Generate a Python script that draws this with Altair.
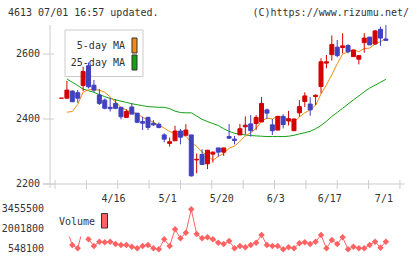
import altair as alt
import pandas as pd

# Trading days shown (2020-04-02 .. 2020-07-01)
dates = [
    "04/02", "04/03", "04/06", "04/07", "04/08", "04/09", "04/10", "04/13", "04/14", "04/15",
    "04/16", "04/17", "04/20", "04/21", "04/22", "04/23", "04/24", "04/27", "04/28", "04/30",
    "05/01", "05/07", "05/08", "05/11", "05/12", "05/13", "05/14", "05/15", "05/18", "05/19",
    "05/20", "05/21", "05/22", "05/25", "05/26", "05/27", "05/28", "05/29",
    "06/01", "06/02", "06/03", "06/04", "06/05", "06/08", "06/09", "06/10", "06/11", "06/12",
    "06/15", "06/16", "06/17", "06/18", "06/19", "06/22", "06/23", "06/24", "06/25", "06/26",
    "06/29", "06/30", "07/01",
]

open_ = [2464, 2464, 2486, 2481, 2503, 2564, 2504, 2474, 2458, 2436,
         2448, 2436, 2405, 2437, 2418, 2392, 2405, 2387, 2384, 2351,
         2325, 2333, 2363, 2350, 2351, 2274, 2291, 2262, 2292, 2311,
         2298, 2346, 2338, 2351, 2376, 2385, 2386, 2391, 2428, 2382,
         2366, 2408, 2394, 2364, 2419, 2454, 2446, 2469, 2500, 2572,
         2598, 2621, 2620, 2626, 2592, 2584, 2635, 2652, 2631, 2676, 2646]
high = [2464, 2517, 2488, 2489, 2561, 2574, 2520, 2492, 2463, 2466,
        2461, 2436, 2430, 2448, 2418, 2407, 2407, 2397, 2389, 2356,
        2343, 2379, 2369, 2384, 2351, 2294, 2307, 2304, 2300, 2311,
        2311, 2385, 2348, 2385, 2408, 2412, 2412, 2468, 2432, 2400,
        2408, 2415, 2425, 2401, 2458, 2482, 2467, 2476, 2587, 2597,
        2657, 2643, 2664, 2630, 2612, 2595, 2664, 2652, 2674, 2684, 2689]
low = [2464, 2464, 2452, 2450, 2486, 2494, 2483, 2443, 2430, 2423,
       2430, 2399, 2405, 2415, 2387, 2366, 2366, 2379, 2371, 2328,
       2315, 2333, 2322, 2350, 2223, 2233, 2260, 2246, 2266, 2284,
       2286, 2339, 2322, 2351, 2352, 2346, 2366, 2391, 2400, 2351,
       2366, 2371, 2380, 2364, 2407, 2437, 2410, 2443, 2479, 2556,
       2580, 2590, 2602, 2602, 2592, 2568, 2604, 2628, 2628, 2625, 2641]
close = [2464, 2489, 2453, 2464, 2546, 2499, 2489, 2448, 2433, 2432,
         2433, 2407, 2423, 2415, 2390, 2387, 2374, 2382, 2374, 2338,
         2330, 2363, 2344, 2366, 2225, 2276, 2260, 2304, 2298, 2298,
         2311, 2341, 2334, 2370, 2381, 2364, 2405, 2448, 2418, 2364,
         2408, 2383, 2401, 2400, 2438, 2471, 2428, 2473, 2576, 2576,
         2629, 2595, 2625, 2607, 2612, 2595, 2649, 2628, 2671, 2649, 2642]

ma5 = [None, 2421, 2423, 2445, 2483, 2490, 2490, 2489, 2482, 2468,
       2452, 2436, 2427, 2422, 2416, 2405, 2398, 2390, 2381, 2372,
       2361, 2357, 2350, 2347, 2328, 2316, 2298, 2288, 2273, 2285,
       2294, 2310, 2317, 2331, 2348, 2358, 2371, 2393, 2403, 2400,
       2409, 2404, 2395, 2391, 2406, 2419, 2428, 2442, 2477, 2505,
       2536, 2570, 2600, 2606, 2614, 2607, 2617, 2618, 2631, 2638, 2648]
ma25 = [None, 2523, 2513, 2503, 2492, 2487, 2482, 2475, 2469, 2463,
        2459, 2455, 2451, 2447, 2444, 2441, 2438, 2437, 2436, 2436,
        2432, 2424, 2420, 2419, 2419, 2409, 2399, 2392, 2386, 2380,
        2370, 2362, 2356, 2353, 2351, 2349, 2348, 2347, 2346, 2346,
        2346, 2346, 2347, 2350, 2354, 2358, 2362, 2370, 2380, 2393,
        2408, 2420, 2433, 2446, 2459, 2471, 2484, 2495, 2504, 2513, 2522]

volume = [2100000, 1980000, 861000, 621000, 2130000, 1275000, 788000, 1101000, 1057000, 1101000,
          933000, 861000, 861000, 737000, 621000, 788000, 861000, 621000, 548100, 1275000,
          788000, 2000000, 1348000, 1755000, 3455500, 1660000, 1348000, 1420000, 1275000, 1030000,
          933000, 1151000, 621000, 788000, 693000, 861000, 1030000, 1588000, 861000, 788000,
          788000, 548100, 693000, 621000, 984000, 1057000, 933000, 1101000, 1588000, 621000,
          1227000, 933000, 1420000, 548100, 737000, 621000, 621000, 861000, 1101000, 664000, 1101000]

label_dates = ["04/16", "05/01", "05/20", "06/03", "06/17", "07/01"]
label_texts = ["4/16", "5/1", "5/20", "6/3", "6/17", "7/1"]
price_ticks = [2200, 2400, 2600]
volume_ticks = [548100, 2001800, 3455500]
grid_ticks = [-1.2, 4.6, 10.4, 16.2, 22.0, 27.8, 33.6, 39.4, 45.2, 51.0, 56.8, 62.6]

FONT = "DejaVu Sans Mono"
TEXT = "#333333"
AXIS = "#cccccc"
UP, DOWN = "#d40000", "#4040c0"
ORANGE, GREEN, VOL = "#f28c0f", "#12a012", "#ff6262"

idx = list(range(len(dates)))
candles = pd.DataFrame({"i": idx, "date": dates, "open": open_, "high": high,
                        "low": low, "close": close})
candles["dir"] = ["up" if c >= o else "down" for o, c in zip(open_, close)]
ma = pd.DataFrame({"i": idx, "ma5": ma5, "ma25": ma25})
vol = pd.DataFrame({"i": idx, "volume": volume})
labels = pd.DataFrame({"i": [dates.index(d) for d in label_dates], "text": label_texts})

xs = alt.Scale(domain=[-1.204, 62.61], range=[50, 405], nice=False, zero=False)
ps = alt.Scale(domain=[2200, 2690], range=[184, 24.75], nice=False, zero=False)
vs = alt.Scale(domain=[548100, 3455500], range=[249.3, 209.3], nice=False, zero=False)
dir_color = alt.Scale(domain=["up", "down"], range=[UP, DOWN])

X = alt.X("i:Q", scale=xs, axis=None)
base = alt.Chart(candles)

# MA legend box (drawn beneath the candles)
one = alt.Chart(pd.DataFrame({"k": [0]}))
ma_box = one.mark_rect(fill="white", stroke=AXIS, strokeWidth=1).encode(
    x=alt.value(65), x2=alt.value(143), y=alt.value(30), y2=alt.value(76.5))
ma_legend = pd.DataFrame({"name": ["5-day MA", "25-day MA"], "c": [ORANGE, GREEN],
                          "y": [45.5, 62.5]})
ma_text = alt.Chart(ma_legend).mark_text(font=FONT, fontSize=10, color=TEXT, align="right",
                                         baseline="middle").encode(
    x=alt.value(125), y=alt.Y("y:Q", scale=None), text="name:N")
ma_swatch = alt.Chart(ma_legend).mark_rect(stroke="#333333", strokeWidth=1).encode(
    x=alt.value(132), x2=alt.value(137),
    y=alt.Y("y0:Q", scale=None), y2=alt.Y2("y1:Q"),
    fill=alt.Color("c:N", scale=None)).transform_calculate(
    y0="datum.y - 7.5", y1="datum.y + 7.5")

# axes
y_axis = one.mark_rule(color=AXIS, strokeWidth=1).encode(
    x=alt.value(50), y=alt.value(25), y2=alt.value(188))
x_axis = one.mark_rule(color=AXIS, strokeWidth=1).encode(
    x=alt.value(43), x2=alt.value(405), y=alt.value(184))
p_ticks = alt.Chart(pd.DataFrame({"p": price_ticks})).mark_rule(color=AXIS, strokeWidth=1).encode(
    y=alt.Y("p:Q", scale=ps, axis=None), x=alt.value(43), x2=alt.value(54))
p_labels = alt.Chart(pd.DataFrame({"p": price_ticks})).mark_text(
    font=FONT, fontSize=10, color=TEXT, align="right", baseline="middle").encode(
    y=alt.Y("p:Q", scale=ps, axis=None), x=alt.value(40), text=alt.Text("p:Q", format="d"))
g_ticks = alt.Chart(pd.DataFrame({"i": grid_ticks})).mark_rule(color=AXIS, strokeWidth=1).encode(
    x=X, y=alt.value(180), y2=alt.value(189))
d_labels = alt.Chart(labels).mark_text(font=FONT, fontSize=10, color=TEXT, dx=-2,
                                       baseline="middle").encode(
    x=X, y=alt.value(198.5), text="text:N")

# candlesticks
wicks = base.mark_rule(strokeWidth=1).encode(
    x=X, y=alt.Y("high:Q", scale=ps, axis=None), y2="low:Q",
    color=alt.Color("dir:N", scale=dir_color, legend=None))
bodies = base.mark_bar(size=4, strokeWidth=1).encode(
    x=X, y=alt.Y("open:Q", scale=ps, axis=None), y2="close:Q",
    color=alt.Color("dir:N", scale=dir_color, legend=None),
    stroke=alt.Stroke("dir:N", scale=dir_color, legend=None))

# moving averages
line5 = alt.Chart(ma).mark_line(color=ORANGE, strokeWidth=1).encode(
    x=X, y=alt.Y("ma5:Q", scale=ps, axis=None))
line25 = alt.Chart(ma).mark_line(color=GREEN, strokeWidth=1).encode(
    x=X, y=alt.Y("ma25:Q", scale=ps, axis=None))

# volume
v_line = alt.Chart(vol).mark_line(color=VOL, strokeWidth=1).encode(
    x=X, y=alt.Y("volume:Q", scale=vs, axis=None))
v_pts = alt.Chart(vol).mark_point(shape="diamond", filled=True, size=42, opacity=1,
                                  color=VOL).encode(
    x=X, y=alt.Y("volume:Q", scale=vs, axis=None))
v_labels = alt.Chart(pd.DataFrame({"v": volume_ticks})).mark_text(
    font=FONT, fontSize=10, color=TEXT, align="right", baseline="middle").encode(
    y=alt.Y("v:Q", scale=vs, axis=None), x=alt.value(44), text=alt.Text("v:Q", format="d"))
v_box = one.mark_rect(fill="white").encode(
    x=alt.value(50), x2=alt.value(112), y=alt.value(211), y2=alt.value(236.5))
v_text = one.mark_text(font=FONT, fontSize=10, color=TEXT, align="left",
                       baseline="middle", text="Volume").encode(
    x=alt.value(59), y=alt.value(222))
v_swatch = one.mark_rect(fill=VOL, stroke="#333333", strokeWidth=1).encode(
    x=alt.value(101.5), x2=alt.value(107.5), y=alt.value(213.5), y2=alt.value(228))

# header
head_l = one.mark_text(font=FONT, fontSize=10, color=TEXT, align="left", baseline="middle",
                       text="4613 07/01 16:57 updated.").encode(x=alt.value(8), y=alt.value(13))
head_r = one.mark_text(font=FONT, fontSize=10, color=TEXT, align="right", baseline="middle",
                       text="(C)https://www.rizumu.net/").encode(x=alt.value(409), y=alt.value(13))

chart = alt.layer(
    ma_box, ma_text, ma_swatch,
    y_axis, x_axis, p_ticks, p_labels, g_ticks, d_labels,
    line25, line5, wicks, bodies,
    v_line, v_pts, v_labels, v_box, v_text, v_swatch,
    head_l, head_r,
).resolve_scale(y="independent", color="independent", stroke="independent").properties(
    width=420, height=259, padding=0, autosize=alt.AutoSizeParams(type="none"),
    background="white",
).configure_view(stroke=None)

chart.save("out.html", embed_options={"renderer": "svg", "actions": False})
